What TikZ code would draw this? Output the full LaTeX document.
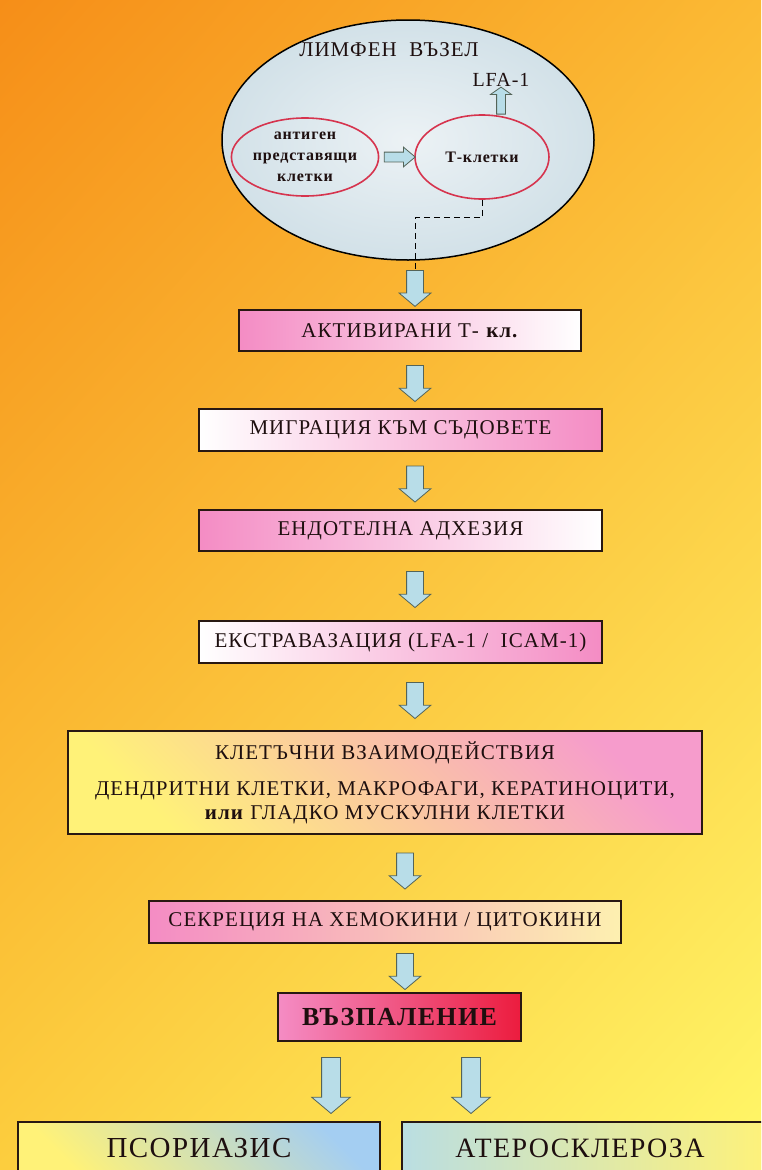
\documentclass[tikz,border=0pt]{standalone}
\usepackage{fontspec}
\setmainfont{Liberation Serif}
\newfontfamily\boxfont[LetterSpace=5]{Liberation Serif}
\usetikzlibrary{shapes.geometric,shapes.arrows,shadings}

\definecolor{bgul}{RGB}{246,142,24}
\definecolor{bgur}{RGB}{251,186,52}
\definecolor{bgll}{RGB}{252,206,62}
\definecolor{bglr}{RGB}{255,247,104}
\definecolor{nodein}{RGB}{236,242,245}
\definecolor{nodeout}{RGB}{210,225,232}
\definecolor{cellred}{RGB}{214,52,78}
\definecolor{boxline}{RGB}{40,24,18}
\definecolor{boxtext}{RGB}{30,15,15}
\definecolor{pinkA}{RGB}{244,140,196}
\definecolor{pinkB}{RGB}{246,156,204}
\definecolor{redA}{RGB}{236,28,62}
\definecolor{yellowA}{RGB}{255,242,120}
\definecolor{creamA}{RGB}{253,240,176}
\definecolor{blueA}{RGB}{164,206,242}
\definecolor{cyanA}{RGB}{186,222,226}
\definecolor{arrowfill}{RGB}{184,221,232}
\definecolor{arrowline}{RGB}{84,100,88}

\tikzset{
  flowbox/.style={rectangle, draw=boxline, line width=2pt, inner sep=0pt,
    text=boxtext, font=\boxfont\fontsize{21}{24}\selectfont, align=center},
  cell/.style={ellipse, draw=cellred, line width=1.6pt, inner sep=0pt,
    text=boxtext, font=\boxfont\bfseries\fontsize{16}{21}\selectfont, align=center},
  bigarrow/.style={single arrow, draw=arrowline, fill=arrowfill, line width=0.8pt,
    inner xsep=0pt, inner ysep=8pt, single arrow head extend=7.5pt,
    single arrow tip angle=100, minimum height=36pt},
  smallarrow/.style={single arrow, draw=arrowline, fill=arrowfill, line width=0.8pt,
    inner xsep=0pt, inner ysep=4.5pt, single arrow head extend=5pt,
    single arrow tip angle=80, minimum height=31pt},
  uparrow/.style={single arrow, draw=arrowline, fill=arrowfill, line width=0.8pt,
    inner xsep=0pt, inner ysep=4pt, single arrow head extend=6pt,
    single arrow tip angle=110, minimum height=27pt},
  link/.style={to path={(\tikztostart) -- (\tikztotarget)
    node[midway, sloped, allow upside down, #1] {}}}
}

\begin{document}
\begin{tikzpicture}[x=1pt, y=-1pt]

  % background
  \useasboundingbox (0,0) rectangle (761,1170);
  \clip (0,0) rectangle (761,1170);
  \shade[upper left=bgul, upper right=bgur, lower left=bgll, lower right=bglr]
    (0,0) rectangle (761,1170);

  % axes of the block arrows
  \coordinate (axis) at (415,0);
  \coordinate (axisb) at (405,0);
  \coordinate (leftaxis) at (331,0);
  \coordinate (rightaxis) at (471,0);

  % lymph node
  \node[ellipse, draw=black, line width=1.5pt, inner color=nodein, outer color=nodeout,
    minimum width=372, minimum height=240] (lymph) at (408,140) {};
  \node[text=boxtext, font=\boxfont\fontsize{21}{24}\selectfont] (title) at (389,50) {ЛИМФЕН\ \ ВЪЗЕЛ};
  \node[text=boxtext, font=\boxfont\fontsize{20}{24}\selectfont] (lfa) at (501,80) {LFA-1};
  \node[cell, minimum width=134, minimum height=78] (apc) at (305,157) {антиген\\представящи\\клетки};
  \node[cell, minimum width=134, minimum height=84] (tcell) at (482,157) {Т-клетки};

  % steps
  \node[flowbox, left color=pinkA, right color=white,
    minimum width=342, minimum height=41] (act) at (410,330.5) {АКТИВИРАНИ Т- \textbf{кл.}};
  \node[flowbox, left color=white, right color=pinkA,
    minimum width=403, minimum height=42] (mig) at (400.5,430) {МИГРАЦИЯ КЪМ СЪДОВЕТЕ};
  \node[flowbox, left color=pinkA, right color=white,
    minimum width=403, minimum height=41] (adh) at (400.5,530.5) {ЕНДОТЕЛНА АДХЕЗИЯ};
  \node[flowbox, left color=white, right color=pinkA,
    minimum width=403, minimum height=42] (extr) at (400.5,642) {ЕКСТРАВАЗАЦИЯ (LFA-1 /\ \ ICAM-1)};
  \node[flowbox, top color=pinkB, bottom color=yellowA, shading angle=-45,
    minimum width=634, minimum height=103] (inter) at (385,782.5)
    {КЛЕТЪЧНИ ВЗАИМОДЕЙСТВИЯ\\[12pt]ДЕНДРИТНИ КЛЕТКИ, МАКРОФАГИ, КЕРАТИНОЦИТИ,\\\textbf{или} ГЛАДКО МУСКУЛНИ КЛЕТКИ};
  \node[flowbox, left color=pinkA, right color=creamA,
    minimum width=472, minimum height=42] (secr) at (385,922) {СЕКРЕЦИЯ НА ХЕМОКИНИ / ЦИТОКИНИ};
  \node[flowbox, left color=pinkA, right color=redA, font=\boxfont\bfseries\fontsize{26}{30}\selectfont,
    minimum width=243, minimum height=48] (infl) at (399.5,1017) {ВЪЗПАЛЕНИЕ};
  \node[flowbox, top color=blueA, bottom color=yellowA, shading angle=-45, font=\boxfont\fontsize{29}{32}\selectfont,
    minimum width=362, minimum height=52] (psor) at (199,1148) {ПСОРИАЗИС};
  \node[flowbox, left color=cyanA, right color=yellowA, font=\boxfont\fontsize{28}{32}\selectfont,
    minimum width=370, minimum height=52] (ather) at (587,1148) {\hspace*{-14pt}АТЕРОСКЛЕРОЗА};

  % arrows
  \path (apc) to[link=smallarrow] (tcell);
  \path (tcell.north -| lfa) to[link=uparrow] (lfa.south);
  \path (lymph.south -| axis) to[link={bigarrow, name=a1}] (act.north -| axis);
  \path (act.south -| axis) to[link=bigarrow] (mig.north -| axis);
  \path (mig.south -| axis) to[link=bigarrow] (adh.north -| axis);
  \path (adh.south -| axis) to[link=bigarrow] (extr.north -| axis);
  \path (extr.south -| axis) to[link=bigarrow] (inter.north -| axis);
  \path (inter.south -| axisb) to[link=bigarrow] (secr.north -| axisb);
  \path (secr.south -| axisb) to[link=bigarrow] (infl.north -| axisb);
  \path (infl.south -| leftaxis) to[link={bigarrow, minimum height=56pt, inner ysep=9pt, single arrow head extend=10pt}] (psor.north -| leftaxis);
  \path (infl.south -| rightaxis) to[link={bigarrow, minimum height=56pt, inner ysep=9pt, single arrow head extend=10pt}] (ather.north -| rightaxis);

  \draw[dashed, dash pattern=on 6pt off 4pt, line width=1pt] (tcell.south) -- ++(0,18) -| (a1.tail);

\end{tikzpicture}
\end{document}
